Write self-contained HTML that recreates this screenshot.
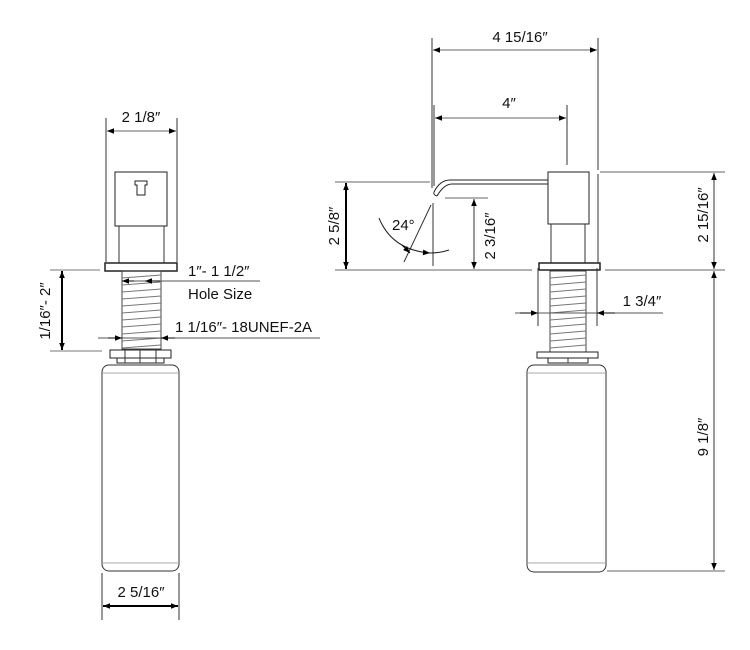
<!DOCTYPE html>
<html><head><meta charset="utf-8"><style>
html,body{margin:0;padding:0;background:#fff;}
svg{display:block;}
text{font-family:"Liberation Sans",sans-serif;font-size:15px;fill:#111;}
</style></head><body>
<svg width="750" height="650" viewBox="0 0 750 650" xmlns="http://www.w3.org/2000/svg">
<defs>
<marker id="a" viewBox="0 0 10 10" refX="10" refY="5" markerWidth="10" markerHeight="7" orient="auto-start-reverse" markerUnits="userSpaceOnUse"><path d="M0,1 L10,5 L0,9 z" fill="#000"/></marker>
</defs>
<g stroke="#333" stroke-width="1" fill="none">
<line x1="106" y1="118" x2="106" y2="262"/>
<line x1="177" y1="118" x2="177" y2="262"/>
<line x1="107" y1="131" x2="176" y2="131" stroke="#666" marker-start="url(#a)" marker-end="url(#a)"/>
<rect x="115" y="172" width="52" height="54" stroke="#222"/>
<path d="M135,181 h12 v4 h-2 v10 h-8 v-10 h-2 z" stroke="#222"/>
<line x1="119" y1="226" x2="119" y2="263"/>
<line x1="164" y1="226" x2="164" y2="263"/>
<rect x="105" y="263" width="72" height="8" stroke="#222" stroke-width="1.5"/>
<rect x="122" y="271" width="39" height="78" stroke="#444"/>
<g stroke="#777">
<line x1="122" y1="278" x2="161" y2="275"/><line x1="122" y1="285" x2="161" y2="282"/>
<line x1="122" y1="292" x2="161" y2="289"/><line x1="122" y1="299" x2="161" y2="296"/>
<line x1="122" y1="306" x2="161" y2="303"/><line x1="122" y1="313" x2="161" y2="310"/>
<line x1="122" y1="320" x2="161" y2="317"/><line x1="122" y1="327" x2="161" y2="324"/>
<line x1="122" y1="334" x2="161" y2="331"/><line x1="122" y1="341" x2="161" y2="338"/>
<line x1="122" y1="348" x2="161" y2="345"/>
</g>
<rect x="110" y="350" width="61" height="8" stroke="#222"/>
<rect x="117" y="358" width="47" height="5" stroke="#222"/>
<line x1="125" y1="350" x2="125" y2="363"/><line x1="140" y1="350" x2="140" y2="363"/><line x1="156" y1="350" x2="156" y2="363"/>
<rect x="102" y="365" width="77" height="206" rx="7" stroke="#333"/>
<line x1="103" y1="373" x2="178" y2="373" stroke="#aaa"/>
<line x1="103" y1="563" x2="178" y2="563" stroke="#aaa"/>
<line x1="102" y1="573" x2="102" y2="620"/>
<line x1="179" y1="573" x2="179" y2="620"/>
<line x1="103" y1="606" x2="178" y2="606" stroke="#000" stroke-width="2" marker-start="url(#a)" marker-end="url(#a)"/>
<line x1="50" y1="270" x2="100" y2="270" stroke="#777"/>
<line x1="50" y1="351" x2="102" y2="351" stroke="#777"/>
<line x1="62" y1="271" x2="62" y2="350" stroke="#000" stroke-width="2" marker-start="url(#a)" marker-end="url(#a)"/>
<line x1="122" y1="281" x2="260" y2="281" stroke="#555"/>
<line x1="122" y1="281" x2="134" y2="281" stroke="#000" marker-start="url(#a)"/>
<line x1="145" y1="281" x2="160" y2="281" stroke="#000" marker-start="url(#a)"/>
<line x1="98" y1="338" x2="320" y2="338" stroke="#555"/>
<line x1="108" y1="338" x2="122" y2="338" stroke="#000" marker-end="url(#a)"/>
<line x1="175" y1="338" x2="161" y2="338" stroke="#000" marker-end="url(#a)"/>

<line x1="432" y1="38" x2="432" y2="188"/>
<line x1="598" y1="38" x2="598" y2="170"/>
<line x1="598" y1="174" x2="598" y2="263"/>
<line x1="433" y1="50" x2="597" y2="50" stroke="#666" marker-start="url(#a)" marker-end="url(#a)"/>
<line x1="434" y1="105" x2="434" y2="186"/>
<line x1="567" y1="105" x2="567" y2="165"/>
<line x1="435" y1="118" x2="566" y2="118" stroke="#666" marker-start="url(#a)" marker-end="url(#a)"/>
<rect x="548" y="172" width="41" height="52" stroke="#222"/>
<line x1="551" y1="224" x2="551" y2="263"/>
<line x1="585" y1="224" x2="585" y2="263"/>
<rect x="539" y="263" width="61" height="7" stroke="#222" stroke-width="1.5"/>
<rect x="550" y="271" width="36" height="81" stroke="#444"/>
<g stroke="#777">
<line x1="550" y1="278" x2="586" y2="275"/><line x1="550" y1="285" x2="586" y2="282"/>
<line x1="550" y1="292" x2="586" y2="289"/><line x1="550" y1="299" x2="586" y2="296"/>
<line x1="550" y1="306" x2="586" y2="303"/><line x1="550" y1="313" x2="586" y2="310"/>
<line x1="550" y1="320" x2="586" y2="317"/><line x1="550" y1="327" x2="586" y2="324"/>
<line x1="550" y1="334" x2="586" y2="331"/><line x1="550" y1="341" x2="586" y2="338"/>
<line x1="550" y1="348" x2="586" y2="345"/>
</g>
<rect x="537" y="352" width="61" height="6" stroke="#222"/>
<rect x="548" y="358" width="40" height="5" stroke="#222"/>
<line x1="568" y1="358" x2="568" y2="363"/>
<rect x="527" y="365" width="79" height="207" rx="7" stroke="#333"/>
<line x1="528" y1="373" x2="605" y2="373" stroke="#aaa"/>
<line x1="528" y1="563" x2="605" y2="563" stroke="#aaa"/>
<path d="M548,180 H450 Q440,180 434,192" stroke="#222"/>
<path d="M548,184 H452 Q444,184 437,196" stroke="#222"/>
<path d="M434,192 Q433,195 437,196" stroke="#222"/>
<line x1="335" y1="182" x2="430" y2="182" stroke="#666"/>
<line x1="600" y1="172" x2="725" y2="172" stroke="#666"/>
<line x1="335" y1="270" x2="532" y2="270" stroke="#666"/>
<line x1="605" y1="270" x2="725" y2="270" stroke="#666"/>
<line x1="607" y1="571" x2="725" y2="571" stroke="#666"/>
<line x1="445" y1="198" x2="488" y2="198" stroke="#666"/>
<line x1="346" y1="183" x2="346" y2="269" stroke="#000" stroke-width="2" marker-start="url(#a)" marker-end="url(#a)"/>
<line x1="474" y1="199" x2="474" y2="269" stroke="#333" marker-start="url(#a)" marker-end="url(#a)"/>
<line x1="714" y1="173" x2="714" y2="269" stroke="#333" marker-start="url(#a)" marker-end="url(#a)"/>
<line x1="714" y1="271" x2="714" y2="570" stroke="#333" marker-start="url(#a)" marker-end="url(#a)"/>
<line x1="433" y1="203" x2="433" y2="266"/>
<line x1="431" y1="205" x2="404" y2="262"/>
<path d="M379,218 Q392,250 430,253" stroke="#222" marker-end="url(#a)"/>
<path d="M430,253 Q440,253 449,250" stroke="#222"/>
<line x1="402" y1="245" x2="410" y2="253" stroke="#000" marker-end="url(#a)"/>
<line x1="538" y1="268" x2="538" y2="326"/>
<line x1="597" y1="268" x2="597" y2="326"/>
<line x1="515" y1="313" x2="663" y2="313" stroke="#555"/>
<line x1="520" y1="313" x2="538" y2="313" stroke="#000" marker-end="url(#a)"/>
<line x1="615" y1="313" x2="597" y2="313" stroke="#000" marker-end="url(#a)"/>
</g>
<text x="141" y="122" text-anchor="middle">2 1/8″</text>
<text x="188" y="276">1″- 1 1/2″</text>
<text x="188" y="299" font-size="14">Hole Size</text>
<text x="175" y="332">1 1/16″- 18UNEF-2A</text>
<text x="141" y="597" text-anchor="middle">2  5/16″</text>
<text transform="translate(50,311) rotate(-90)" text-anchor="middle">1/16″- 2″</text>
<text x="520" y="42" text-anchor="middle">4 15/16″</text>
<text x="509" y="108" text-anchor="middle">4″</text>
<text x="392" y="230">24°</text>
<text x="642" y="306" text-anchor="middle">1 3/4″</text>
<text transform="translate(339,226) rotate(-90)" text-anchor="middle">2 5/8″</text>
<text transform="translate(495,236) rotate(-90)" text-anchor="middle">2 3/16″</text>
<text transform="translate(708,215) rotate(-90)" text-anchor="middle">2 15/16″</text>
<text transform="translate(708,437) rotate(-90)" text-anchor="middle">9 1/8″</text>
</svg>
</body></html>
